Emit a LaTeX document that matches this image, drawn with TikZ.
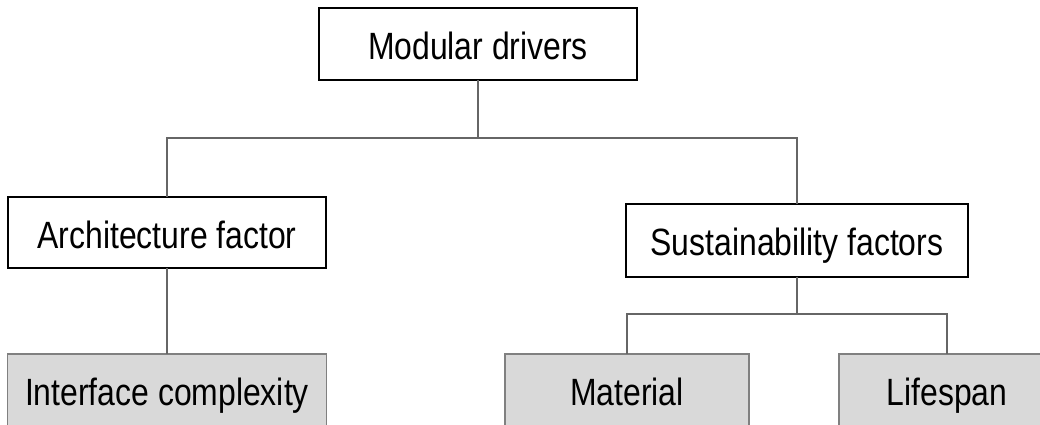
\documentclass[tikz,border=0pt]{standalone}
\usepackage{fontspec}
\setmainfont[FakeStretch=0.84]{Liberation Sans}
\definecolor{linkgray}{HTML}{666666}
\definecolor{leafborder}{HTML}{808080}
\definecolor{leaffill}{HTML}{D9D9D9}
\begin{document}
\begin{tikzpicture}[x=1pt,y=-1pt,
  every node/.style={inner sep=0pt, outer sep=0pt, text height=31pt, text depth=0pt,
    font=\fontsize{38}{44}\selectfont},
  mainbox/.style={draw=black, line width=2pt, fill=white},
  leafbox/.style={draw=leafborder, line width=1.3pt, fill=leaffill},
  link/.style={draw=linkgray, line width=1.3pt}]
\useasboundingbox (0,0) rectangle (1040,425);
\clip (0,0) rectangle (1040,425);

% hierarchy levels
\node[mainbox, minimum width=318pt, minimum height=72pt] (top) at (478,44) {Modular drivers};
\node[mainbox, minimum width=318pt, minimum height=71pt] (arch) at (167,232.5) {Architecture factor};
\node[mainbox, minimum width=342pt, minimum height=73pt] (sust) at (797,240) {Sustainability factors};
\node[leafbox, minimum width=319pt, minimum height=72pt] (iface) at (167,390) {Interface complexity};
\node[leafbox, minimum width=244pt, minimum height=72pt] (mat) at (627,390) {Material};
\node[leafbox, minimum width=216pt, minimum height=72pt] (life) at (947,390) {Lifespan};

% bus lines
\coordinate (busA) at (478,138);
\coordinate (busB) at (797,314);

\draw[link] (top.south) -- (busA);
\draw[link] (arch.north) -- (arch.north |- busA) -- (sust.north |- busA) -- (sust.north);
\draw[link] (arch.south) -- (iface.north);
\draw[link] (sust.south) -- (busB);
\draw[link] (mat.north) -- (mat.north |- busB) -- (life.north |- busB) -- (life.north);
\end{tikzpicture}
\end{document}
